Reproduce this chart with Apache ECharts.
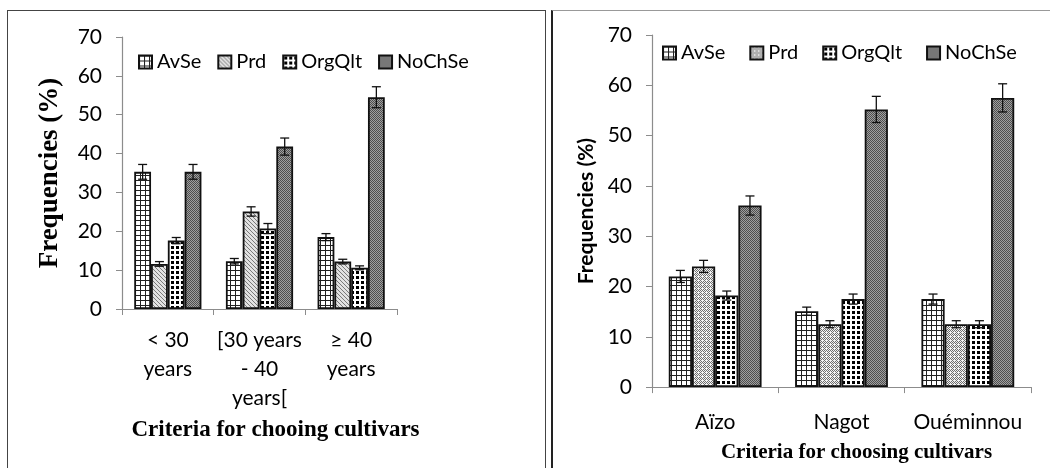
<!DOCTYPE html>
<html>
<head>
<meta charset="utf-8">
<script src="https://cdn.jsdelivr.net/npm/echarts@6/dist/echarts.min.js"></script>
<style>
  body { margin:0; background:#fff; width:1050px; height:468px; position:relative; overflow:hidden; }
  #frameL { position:absolute; left:7px; top:10px; width:537px; height:470px;
            border-left:1.5px solid #444; border-top:1.5px solid #444; border-right:1.5px solid #444; }
  #frameR { position:absolute; left:551px; top:10px; width:510px; height:470px;
            border-left:2px solid #222; border-top:1px solid #999; }
  #left { position:absolute; left:0; top:0; width:546px; height:468px; }
  #right { position:absolute; left:546px; top:0; width:504px; height:468px; }
</style>
</head>
<body>
<div id="frameL"></div>
<div id="frameR"></div>
<div id="left"></div>
<div id="right"></div>
<script>
// ---- data: left panel (age classes) ----
var ageCats = ['< 30\nyears', '[30 years\n- 40\nyears[', '\u2265 40\nyears'];
var ageAvSe = [35.3, 12.3, 18.5];
var ageAvSeErr = [1.9, 0.7, 0.9];
var agePrd = [11.6, 25.1, 12.2];
var agePrdErr = [0.6, 1.2, 0.6];
var ageOrgQlt = [17.6, 20.7, 10.6];
var ageOrgQltErr = [0.8, 1.3, 0.5];
var ageNoChSe = [35.3, 41.8, 54.5];
var ageNoChSeErr = [1.9, 2.2, 2.7];

// ---- data: right panel (ethnic groups) ----
var ethCats = ['A\u00efzo', 'Nagot', 'Ou\u00e9minnou'];
var ethAvSe = [22.0, 15.1, 17.5];
var ethAvSeErr = [1.2, 0.8, 1.0];
var ethPrd = [24.0, 12.5, 12.5];
var ethPrdErr = [1.2, 0.7, 0.7];
var ethOrgQlt = [18.2, 17.5, 12.5];
var ethOrgQltErr = [0.9, 1.0, 0.7];
var ethNoChSe = [36.1, 55.2, 57.5];
var ethNoChSeErr = [1.9, 2.6, 2.8];

var seriesNames = ['AvSe', 'Prd', 'OrgQlt', 'NoChSe'];
var yTicks = { min: 0, max: 70, interval: 10 };

// pattern fills
function pattern(size, fn) {
  var c = document.createElement('canvas');
  c.width = size; c.height = size;
  var ctx = c.getContext('2d');
  fn(ctx, size);
  return { image: c, repeat: 'repeat' };
}
function px(ctx, x, y, col) { ctx.fillStyle = col; ctx.fillRect(x, y, 1, 1); }

var patGrid = pattern(5, function (ctx, s) {
  ctx.fillStyle = '#fff'; ctx.fillRect(0, 0, s, s);
  ctx.fillStyle = '#222'; ctx.fillRect(0, 0, s, 1); ctx.fillRect(0, 0, 1, s);
});
var patDiag = pattern(4, function (ctx, s) {
  ctx.fillStyle = '#e2e2e2'; ctx.fillRect(0, 0, s, s);
  for (var x = 0; x < s; x++) for (var y = 0; y < s; y++) {
    if (((x - y) % 4 + 4) % 4 === 0) px(ctx, x, y, '#7a7a7a');
  }
});
var patCheck = pattern(4, function (ctx, s) {
  ctx.fillStyle = '#f2f2f2'; ctx.fillRect(0, 0, s, s);
  for (var x = 0; x < s; x++) for (var y = 0; y < s; y++) {
    if ((x + y) % 2 === 0 && !(x === 0 && y === 0)) px(ctx, x, y, '#6e6e6e');
  }
});
var patDots = pattern(5, function (ctx, s) {
  ctx.fillStyle = '#fff'; ctx.fillRect(0, 0, s, s);
  ctx.fillStyle = '#000'; ctx.fillRect(1, 1, 3, 3);
});
var patDark = pattern(2, function (ctx, s) {
  ctx.fillStyle = '#a0a0a0'; ctx.fillRect(0, 0, s, s);
  px(ctx, 0, 0, '#4e4e4e'); px(ctx, 1, 1, '#4e4e4e');
});

function errRender(bw) {
  return function (params, api) {
    var ci = api.value(0), si = api.value(1), v = api.value(2), e = api.value(3);
    var hi = api.coord([ci, v + e]);
    var lo = api.coord([ci, v - e]);
    var x = hi[0] + (si - 1.5) * bw;
    var cap = 4.5;
    var st = { stroke: '#111', lineWidth: 1.3 };
    return {
      type: 'group',
      children: [
        { type: 'line', shape: { x1: x, y1: hi[1], x2: x, y2: lo[1] }, style: st },
        { type: 'line', shape: { x1: x - cap, y1: hi[1], x2: x + cap, y2: hi[1] }, style: st },
        { type: 'line', shape: { x1: x - cap, y1: lo[1], x2: x + cap, y2: lo[1] }, style: st }
      ]
    };
  };
}

function buildOption(cfg) {
  var series = [];
  var errData = [];
  cfg.values.forEach(function (vals, si) {
    series.push({
      name: seriesNames[si],
      type: 'bar',
      barWidth: cfg.bw,
      barGap: '0%',
      data: vals,
      itemStyle: { color: cfg.fills[si], borderColor: '#111', borderWidth: 1.8 },
      emphasis: { disabled: true }
    });
    vals.forEach(function (v, ci) { errData.push([ci, si, v, cfg.errs[si][ci]]); });
  });
  series.push({
    type: 'custom',
    renderItem: errRender(cfg.bw),
    encode: { x: 0, y: 2 },
    data: errData,
    z: 10,
    silent: true
  });
  var axisGray = { lineStyle: { color: '#8c8c8c', width: 1.2 } };
  return {
    animation: false,
    legend: {
      data: seriesNames,
      left: cfg.legendLeft, top: cfg.legendTop,
      itemWidth: 13, itemHeight: 13, itemGap: cfg.legendGap,
      icon: 'rect',
      textStyle: { fontFamily: 'Lato', fontSize: 20, color: '#000' }
    },
    grid: cfg.grid,
    xAxis: {
      type: 'category',
      data: cfg.cats,
      axisLine: axisGray,
      axisTick: { show: true, length: 6, lineStyle: { color: '#8c8c8c' } },
      axisLabel: { fontFamily: 'Lato', fontSize: 21, lineHeight: 29, color: '#000',
                   margin: cfg.xLabelMargin, interval: 0 },
      name: cfg.xName,
      nameLocation: 'middle',
      nameGap: cfg.xNameGap,
      nameTextStyle: { fontFamily: 'Liberation Serif', fontWeight: 'bold',
                       fontSize: cfg.xNameSize, color: '#000', padding: [0, 0, 0, cfg.xNameShift] }
    },
    yAxis: {
      type: 'value',
      min: yTicks.min, max: yTicks.max, interval: yTicks.interval,
      splitLine: { show: false },
      axisLine: { show: true, lineStyle: { color: '#8c8c8c', width: 1.2 } },
      axisTick: { show: true, length: 6, lineStyle: { color: '#8c8c8c' } },
      axisLabel: { fontFamily: 'Lato', fontSize: 21, color: '#000', margin: cfg.yLabelMargin },
      name: 'Frequencies (%)',
      nameLocation: 'middle',
      nameGap: cfg.yNameGap,
      nameTextStyle: cfg.yNameStyle
    },
    series: series
  };
}

var leftChart = echarts.init(document.getElementById('left'));
leftChart.setOption(buildOption({
  cats: ageCats,
  values: [ageAvSe, agePrd, ageOrgQlt, ageNoChSe],
  errs: [ageAvSeErr, agePrdErr, ageOrgQltErr, ageNoChSeErr],
  fills: [patGrid, patDiag, patDots, patDark],
  bw: 16.8,
  grid: { left: 122, right: 149, top: 37, bottom: 159 },
  legendLeft: 133, legendTop: 47, legendGap: 16,
  xLabelMargin: 17,
  xName: 'Criteria for chooing cultivars', xNameGap: 110, xNameSize: 23, xNameShift: 32,
  yLabelMargin: 20,
  yNameGap: 58,
  yNameStyle: { fontFamily: 'Liberation Serif', fontWeight: 'bold', fontSize: 27, color: '#000' }
}));

var rightChart = echarts.init(document.getElementById('right'));
rightChart.setOption(buildOption({
  cats: ethCats,
  values: [ethAvSe, ethPrd, ethOrgQlt, ethNoChSe],
  errs: [ethAvSeErr, ethPrdErr, ethOrgQltErr, ethNoChSeErr],
  fills: [patGrid, patCheck, patDots, patDark],
  bw: 23.2,
  grid: { left: 106, right: 19, top: 35, bottom: 77 },
  legendLeft: 111, legendTop: 38, legendGap: 24,
  xLabelMargin: 21,
  xName: 'Criteria for choosing cultivars', xNameGap: 51, xNameSize: 21, xNameShift: 30,
  yLabelMargin: 20,
  yNameGap: 55,
  yNameStyle: { fontFamily: 'Lato', fontWeight: 'bold', fontSize: 21, color: '#000' }
}));
</script>
</body>
</html>
